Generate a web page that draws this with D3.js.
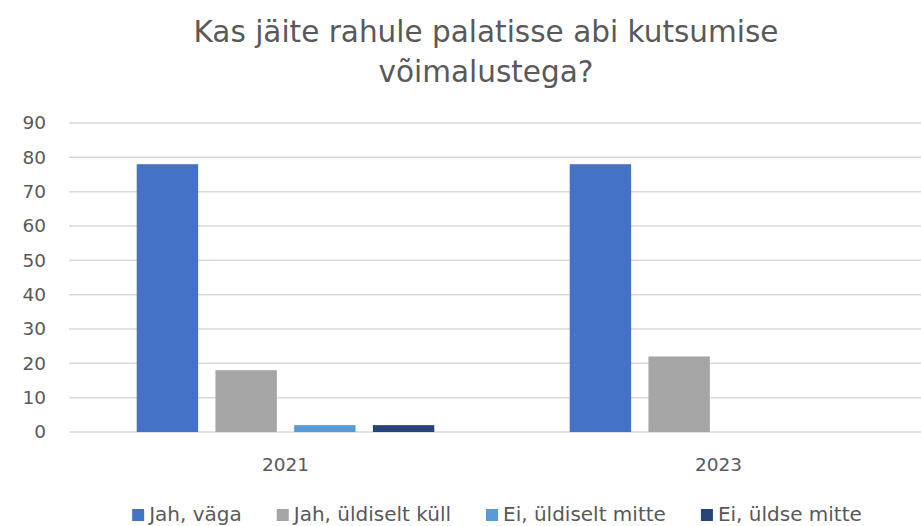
<!DOCTYPE html>
<html lang="et">
<head>
<meta charset="UTF-8">
<title>Kas jäite rahule palatisse abi kutsumise võimalustega?</title>
<script src="https://cdnjs.cloudflare.com/ajax/libs/d3/7.8.5/d3.min.js"></script>
<style>
  body { margin: 0; background: #fff; }
  svg { display: block; font-family: "DejaVu Sans", "Open Sans", sans-serif; }
  .tick text { fill: #595959; }
</style>
</head>
<body>
<script>
// data
var years = ['2021', '2023'];
var seriesNames = ['Jah, väga', 'Jah, üldiselt küll', 'Ei, üldiselt mitte', 'Ei, üldse mitte'];
var seriesColors = ['#4472c4', '#a5a5a5', '#5b9bd5', '#264478'];
var values2021 = [78, 18, 2, 2];
var values2023 = [78, 22, 0, 0];
var yTicks = [0, 10, 20, 30, 40, 50, 60, 70, 80, 90];
var titleLines = ['Kas jäite rahule palatisse abi kutsumise', 'võimalustega?'];

var W = 921, H = 526;
var FONT = '"DejaVu Sans", "Open Sans", sans-serif';
var svg = d3.select('body').append('svg').attr('width', W).attr('height', H);

var rows = [values2021, values2023];

var x0 = d3.scaleBand().domain(years).range([69, 935]);
var x1 = d3.scaleBand().domain(seriesNames).range([0, x0.bandwidth()])
           .paddingInner(0.22).paddingOuter(0.86);
var y = d3.scaleLinear().domain([0, 90]).range([432, 123]);

// title
svg.append('g').selectAll('text').data(titleLines).enter().append('text')
   .attr('x', 486).attr('y', (d, i) => 42 + i * 40)
   .attr('text-anchor', 'middle')
   .style('font-size', '29.5px').style('fill', '#595959')
   .text(d => d);

// gridlines
svg.append('g').selectAll('line').data(yTicks).enter().append('line')
   .attr('x1', 69).attr('x2', W)
   .attr('y1', d => y(d)).attr('y2', d => y(d))
   .attr('stroke', '#d9d9d9').attr('stroke-width', 1.5);

// y axis labels
var yAxis = d3.axisLeft(y).tickValues(yTicks).tickSize(0).tickPadding(0);
svg.append('g').attr('transform', 'translate(46,0)').call(yAxis)
   .call(g => g.select('.domain').remove())
   .selectAll('text').style('font-size', '18.5px').style('font-family', FONT);

// bars
var groups = svg.append('g').selectAll('g').data(years).enter().append('g')
   .attr('transform', d => 'translate(' + x0(d) + ',0)');
groups.selectAll('rect')
   .data((d, i) => rows[i].map((v, j) => ({ name: seriesNames[j], value: v, color: seriesColors[j] })))
   .enter().append('rect')
   .attr('x', d => x1(d.name))
   .attr('width', x1.bandwidth())
   .attr('y', d => y(d.value))
   .attr('height', d => y(0) - y(d.value))
   .attr('fill', d => d.color);

// x axis labels
var xAxis = d3.axisBottom(x0).tickSize(0).tickPadding(0);
svg.append('g').attr('transform', 'translate(0,471)').call(xAxis)
   .call(g => g.select('.domain').remove())
   .selectAll('text').attr('dy', 0).style('font-size', '18.5px').style('font-family', FONT);

// legend
var legend = svg.append('g');
var items = legend.selectAll('g').data(seriesNames).enter().append('g');
items.append('rect').attr('width', 12).attr('height', 12).attr('y', -12)
     .attr('fill', (d, i) => seriesColors[i]);
items.append('text').attr('x', 17).attr('y', 0)
     .style('font-size', '20px').style('fill', '#595959')
     .text(d => d);
var widths = [];
items.each(function () { widths.push(this.getBBox().width); });
var gap = 35;
var total = d3.sum(widths) + gap * (widths.length - 1);
var lx = 497 - total / 2;
items.attr('transform', function (d, i) {
  var t = 'translate(' + lx + ',521)';
  lx += widths[i] + gap;
  return t;
});
</script>
</body>
</html>
